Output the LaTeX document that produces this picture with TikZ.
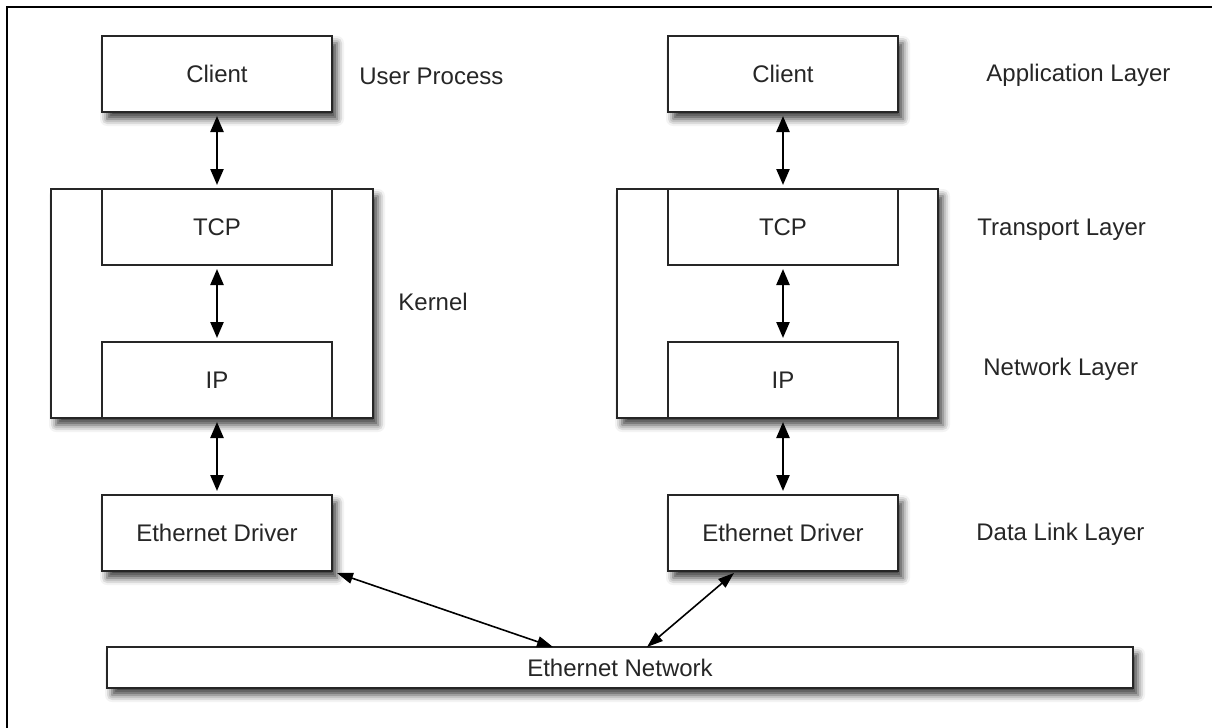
\documentclass[tikz,border=0pt]{standalone}
\usepackage{fontspec}
\setmainfont{Liberation Sans}
\usetikzlibrary{arrows.meta,shadows.blur}
\begin{document}
\begin{tikzpicture}[x=0.5pt,y=-0.5pt,
  txt/.style={font=\fontsize{12}{14}\selectfont, text=black!85},
  plainbox/.style={txt, draw=black!85, line width=1pt, fill=white, rectangle, inner sep=0pt},
  box/.style={plainbox, blur shadow={shadow xshift=2.5pt, shadow yshift=-3.5pt, shadow blur radius=3.5pt, shadow opacity=75}},
  lbl/.style={txt, anchor=base west, inner sep=0pt},
  conn/.style={line width=1.2pt, {Triangle[length=8pt,width=6.5pt]}-{Triangle[length=8pt,width=6.5pt]}, shorten <=1.5pt, shorten >=1.5pt},
  diag/.style={line width=0.8pt, {Triangle[length=8pt,width=5.5pt]}-{Triangle[length=8pt,width=5.5pt]}}]
\useasboundingbox (0,0) rectangle (1212,728);
\draw[line width=1.2pt] (7,728) -- (7,7) -- (1212,7);

% left stack
\node[box, minimum width=115pt, minimum height=38pt] (lclient) at (217,74) {Client};
\node[box, minimum width=161pt, minimum height=114.5pt] (lkern) at (212,303.5) {};
\node[plainbox, minimum width=115pt, minimum height=38pt] (ltcp) at (217,227) {TCP};
\node[plainbox, minimum width=115pt, minimum height=38pt] (lip) at (217,380) {IP};
\node[box, minimum width=115pt, minimum height=38pt] (ldrv) at (217,533) {Ethernet Driver};

% right stack
\node[box, minimum width=115pt, minimum height=38pt] (rclient) at (783,74) {Client};
\node[box, minimum width=160.5pt, minimum height=114.5pt] (rkern) at (777.5,303.5) {};
\node[plainbox, minimum width=115pt, minimum height=38pt] (rtcp) at (783,227) {TCP};
\node[plainbox, minimum width=115pt, minimum height=38pt] (rip) at (783,380) {IP};
\node[box, minimum width=115pt, minimum height=38pt] (rdrv) at (783,533) {Ethernet Driver};

% network
\node[box, minimum width=513pt, minimum height=20.5pt] (net) at (620,667.5) {Ethernet Network};

% labels
\node[lbl] (up) at (359,84) {User Process};
\node[lbl] (kern) at (398,310) {Kernel};
\node[lbl] (app) at (986,82) {Application Layer};
\node[lbl] (tl) at (977,235) {Transport Layer};
\node[lbl] (nl) at (983,375) {Network Layer};
\node[lbl] (dl) at (976,540) {Data Link Layer};

% vertical connectors
\draw[conn] (lclient.south) -- (ltcp.north);
\draw[conn] (ltcp.south) -- (lip.north);
\draw[conn] (lip.south) -- (ldrv.north);
\draw[conn] (rclient.south) -- (rtcp.north);
\draw[conn] (rtcp.south) -- (rip.north);
\draw[conn] (rip.south) -- (rdrv.north);

% diagonal connectors
\coordinate (netL) at (553,647);
\coordinate (netR) at (647,647);
\coordinate (ldrvC) at (337,573);
\coordinate (rdrvB) at (734,573);
\draw[diag] (ldrvC) -- (netL);
\draw[diag] (netR) -- (rdrvB);
\end{tikzpicture}
\end{document}
